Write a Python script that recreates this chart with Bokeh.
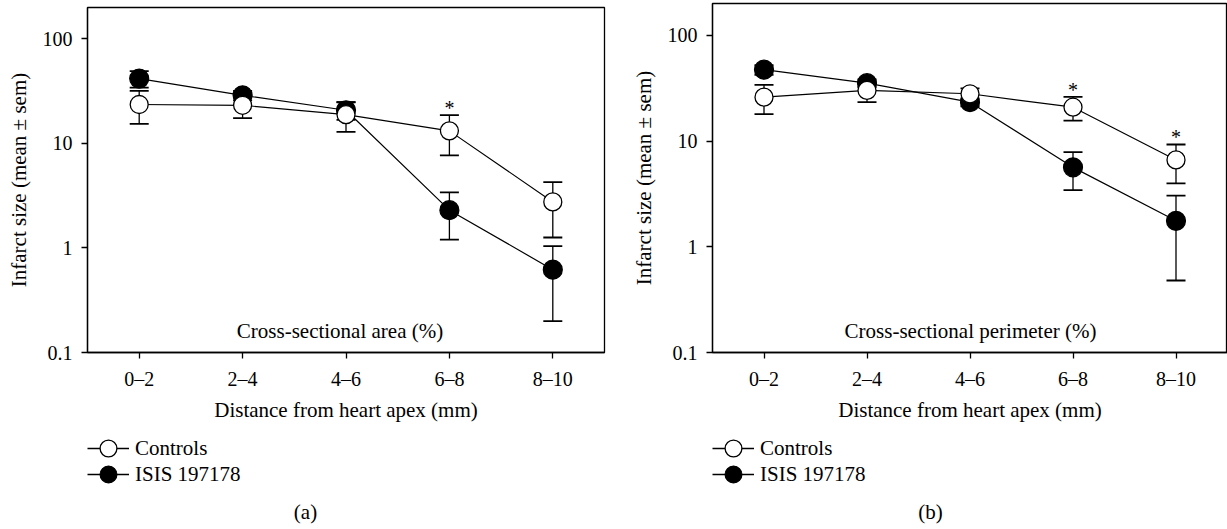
from bokeh.plotting import figure
from bokeh.models import (ColumnDataSource, Whisker, TeeHead, FixedTicker,
                          CustomJSTickFormatter, Legend, LegendItem, Label,
                          FactorRange, Range1d)
from bokeh.layouts import row, column
from bokeh.embed import file_html
from bokeh.resources import INLINE

# ---------------- data ----------------
categories = ["0–2", "2–4", "4–6", "6–8", "8–10"]

area_controls_mean = [23.6, 23.2, 18.9, 13.2, 2.76]
area_controls_sem = [8.2, 5.7, 6.0, 5.5, 1.5]
area_isis_mean = [41.8, 28.9, 20.8, 2.30, 0.62]
area_isis_sem = [7.5, 3.0, 4.0, 1.1, 0.42]
area_significant = [False, False, False, True, False]

perim_controls_mean = [26.0, 30.1, 28.0, 20.9, 6.63]
perim_controls_sem = [8.0, 6.8, 3.5, 5.3, 2.65]
perim_isis_mean = [47.3, 35.3, 23.3, 5.64, 1.76]
perim_isis_sem = [5.0, 3.0, 2.0, 2.2, 1.28]
perim_significant = [False, False, False, True, True]

series_names = ["Controls", "ISIS 197178"]
y_ticks = [0.1, 1, 10, 100]
y_tick_labels = ["0.1", "1", "10", "100"]

x_title = "Distance from heart apex (mm)"
y_title = "Infarct size (mean ± sem)"

FONT = "Liberation Serif"
MAIN_H = 426
FRAME_BOTTOM = 352
LEG_H = 103


def style_line(p, src, lw=1.2):
    return p.line("x", "y", source=src, line_color="black", line_width=lw)


def make_panel(c_mean, c_sem, i_mean, i_sem, sig, inner_text, inner_shift,
               caption, top, frame_w, border_left, border_right):
    width = border_left + frame_w + border_right
    p = figure(x_range=FactorRange(*categories),
               y_range=Range1d(0.1, 200), y_axis_type="log",
               width=width, height=MAIN_H,
               min_border_left=border_left, min_border_right=border_right,
               min_border_top=top, min_border_bottom=MAIN_H - FRAME_BOTTOM,
               output_backend="svg", toolbar_location=None,
               background_fill_color="white", border_fill_color="white",
               outline_line_color="black", outline_line_width=1.3)
    p.grid.visible = False

    c_src = ColumnDataSource(dict(
        x=categories, y=c_mean,
        lo=[m - s for m, s in zip(c_mean, c_sem)],
        hi=[m + s for m, s in zip(c_mean, c_sem)]))
    i_src = ColumnDataSource(dict(
        x=categories, y=i_mean,
        lo=[m - s for m, s in zip(i_mean, i_sem)],
        hi=[m + s for m, s in zip(i_mean, i_sem)]))

    for src in (i_src, c_src):
        w = Whisker(source=src, base="x", upper="hi", lower="lo",
                    dimension="height", level="underlay",
                    line_color="black", line_width=1.3,
                    upper_head=TeeHead(size=19, line_width=1.8, line_color="black"),
                    lower_head=TeeHead(size=19, line_width=1.8, line_color="black"))
        p.add_layout(w)

    style_line(p, i_src)
    style_line(p, c_src)
    p.scatter("x", "y", source=i_src, marker="circle", size=19,
              fill_color="black", line_color="black", line_width=1.2)
    p.scatter("x", "y", source=c_src, marker="circle", size=18,
              fill_color="white", line_color="black", line_width=1.3)

    star_x = [c for c, s in zip(categories, sig) if s]
    star_y = [m + s for m, s, g in zip(c_mean, c_sem, sig) if g]
    p.text(x=star_x, y=star_y, text=["*"] * len(star_x),
           text_align="center", text_baseline="alphabetic", y_offset=-7,
           text_font={"value": FONT}, text_font_size="20px", text_color="black")

    p.add_layout(Label(x=frame_w / 2 + inner_shift, y=22, x_units="screen",
                       y_units="screen", text=inner_text, text_align="center",
                       text_baseline="middle", text_font=FONT,
                       text_font_size="21px", text_color="black"))

    for ax in (p.xaxis[0], p.yaxis[0]):
        ax.axis_line_color = "black"
        ax.axis_line_width = 1.3
        ax.major_tick_line_color = "black"
        ax.major_tick_line_width = 1.3
        ax.major_tick_out = 6
        ax.major_tick_in = 0
        ax.minor_tick_line_color = None
        ax.major_label_text_font = FONT
        ax.major_label_text_font_size = "20px"
        ax.major_label_text_color = "black"
        ax.axis_label_text_font = FONT
        ax.axis_label_text_font_size = "21px"
        ax.axis_label_text_font_style = "normal"
        ax.axis_label_text_color = "black"
        ax.major_label_standoff = 9
    p.xaxis.axis_label_standoff = 5
    p.yaxis.axis_label_standoff = 9

    p.xaxis.axis_label = x_title
    p.yaxis.axis_label = y_title
    p.yaxis.ticker = FixedTicker(ticks=y_ticks)
    p.yaxis.formatter = CustomJSTickFormatter(
        args=dict(tvals=y_ticks, tlabels=y_tick_labels),
        code="""
        for (let i = 0; i < tvals.length; i++) {
            if (Math.abs(Math.log10(tvals[i]) - Math.log10(tick)) < 1e-6) return tlabels[i];
        }
        return "";
        """)

    # ---- legend / caption strip below the chart ----
    lf = figure(x_range=FactorRange(*categories), y_range=Range1d(-10, -5),
                width=width, height=LEG_H,
                min_border_left=0, min_border_right=0, min_border_top=0,
                min_border_bottom=0, x_axis_location=None, y_axis_location=None,
                output_backend="svg", toolbar_location=None,
                background_fill_color="white", border_fill_color="white",
                outline_line_color=None)
    lf.grid.visible = False
    lc2 = style_line(lf, c_src, 1.3)
    sc2 = lf.scatter("x", "y", source=c_src, marker="circle", size=18,
                     fill_color="white", line_color="black", line_width=1.3)
    li2 = style_line(lf, i_src, 1.3)
    si2 = lf.scatter("x", "y", source=i_src, marker="circle", size=19,
                     fill_color="black", line_color="black", line_width=1.2)

    for name, rends, ypos in ((series_names[0], [lc2, sc2], 59),
                              (series_names[1], [li2, si2], 33)):
        lg = Legend(items=[LegendItem(label=name, renderers=rends)],
                    location=(0, ypos), orientation="vertical",
                    margin=0, padding=0, spacing=0,
                    glyph_width=42, glyph_height=44, label_standoff=6,
                    border_line_color=None, background_fill_alpha=0,
                    label_text_font=FONT, label_text_font_size="21px",
                    label_text_color="black")
        lf.add_layout(lg)

    lf.add_layout(Label(x=218, y=18, x_units="screen", y_units="screen",
                        text=caption, text_align="center", text_baseline="middle",
                        text_font=FONT, text_font_size="21px", text_color="black"))
    return column(p, lf, spacing=0)


pa = make_panel(area_controls_mean, area_controls_sem, area_isis_mean,
                area_isis_sem, area_significant, "Cross-sectional area (%)", -6,
                "(a)", 7, 517, 87, 24)
pb = make_panel(perim_controls_mean, perim_controls_sem, perim_isis_mean,
                perim_isis_sem, perim_significant, "Cross-sectional perimeter (%)", -2,
                "(b)", 3, 520, 79, 0)

layout = row(pa, pb, spacing=0)
open("out.html", "w").write(file_html(layout, INLINE))
